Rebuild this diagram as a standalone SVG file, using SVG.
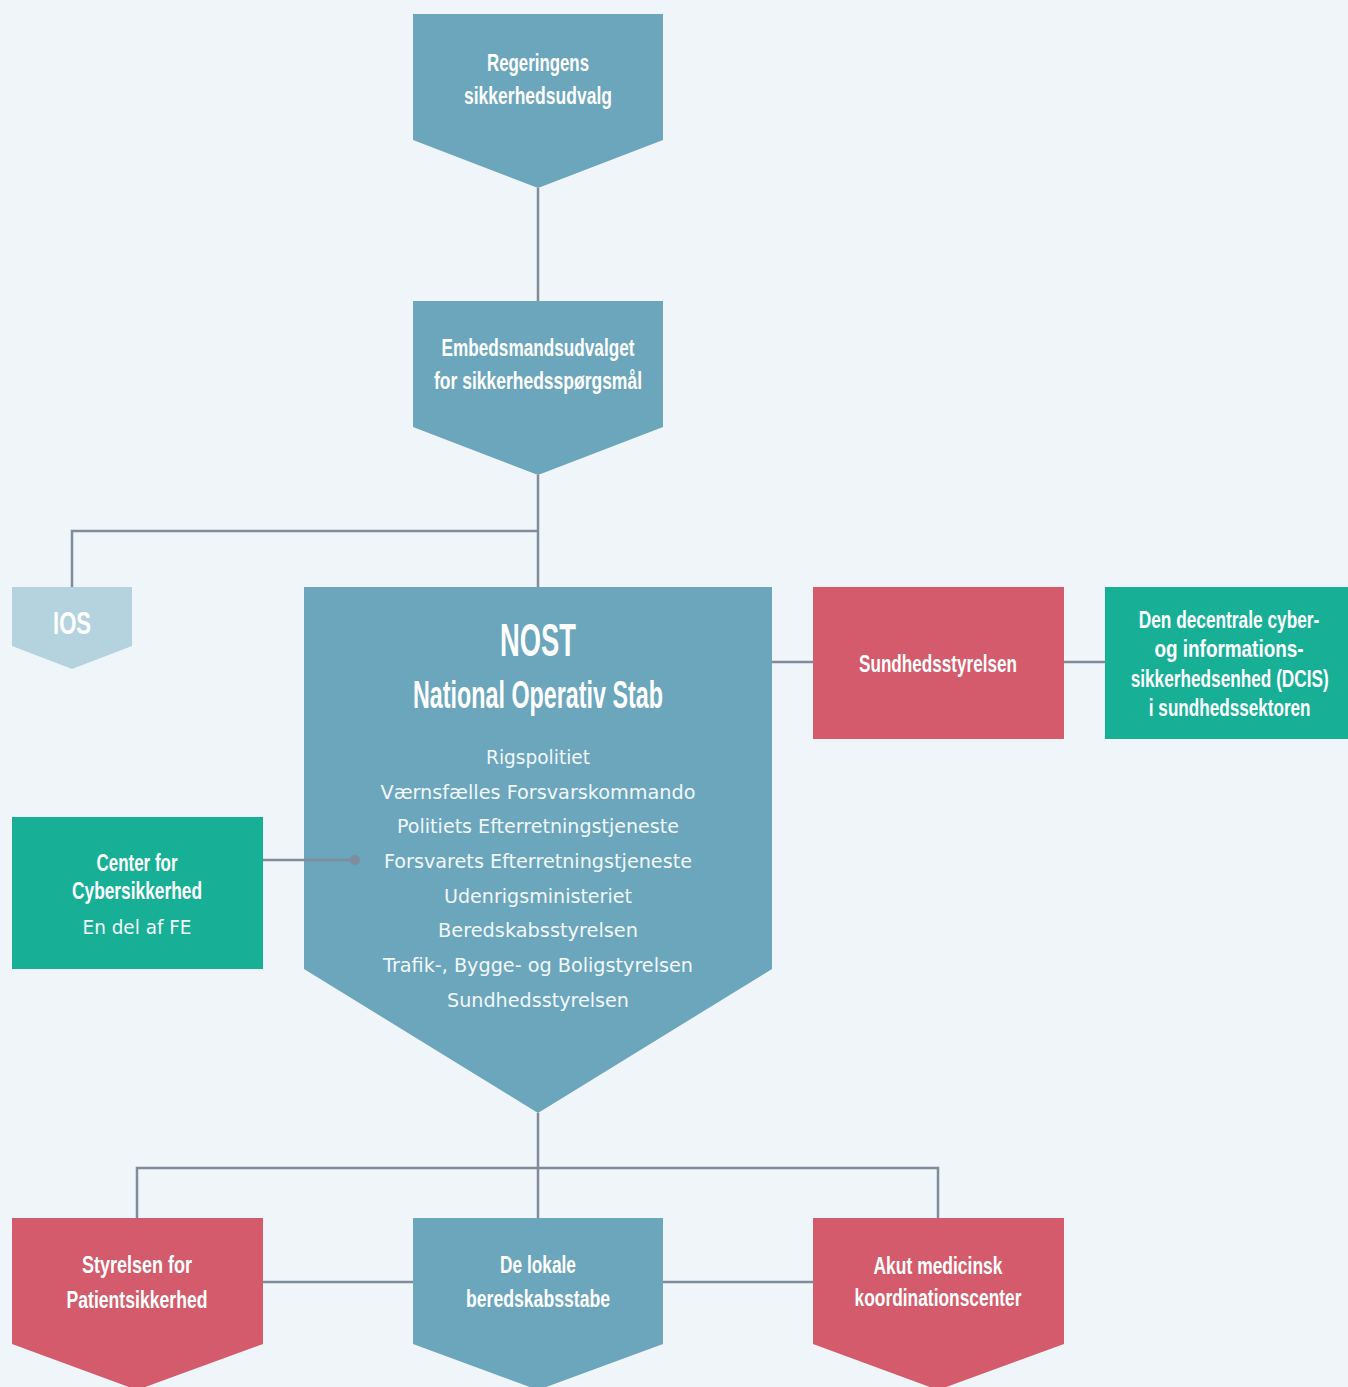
<svg xmlns="http://www.w3.org/2000/svg" width="1348" height="1387" viewBox="0 0 1348 1387">
<style>
.bg{fill:#eff5f8}
.blue{fill:#6ba6bd}
.light{fill:#b5d3df}
.red{fill:#d45b6b}
.green{fill:#17b097}
.ln{stroke:#7f8c9b;stroke-width:2.5;fill:none}
.t{font-family:"Liberation Sans",Arial,sans-serif;font-weight:bold;fill:#ffffff;text-anchor:middle}
.h{font-size:24px}
.r{font-family:"DejaVu Sans","Liberation Sans",sans-serif;font-size:19px;fill:#f2f7fa;text-anchor:middle}
</style>
<rect class="bg" x="0" y="0" width="1348" height="1387"/>
<g id="regeringens">
<polygon class="blue" points="413,14 663,14 663,140 538,188 413,140"/>
<text class="t h" x="538" y="71" textLength="102" lengthAdjust="spacingAndGlyphs">Regeringens</text>
<text class="t h" x="538" y="104" textLength="148" lengthAdjust="spacingAndGlyphs">sikkerhedsudvalg</text>
</g>
<g id="embedsmand">
<polygon class="blue" points="413,301 663,301 663,427 538,475 413,427"/>
<text class="t h" x="538" y="356" textLength="193" lengthAdjust="spacingAndGlyphs">Embedsmandsudvalget</text>
<text class="t h" x="538" y="389" textLength="208" lengthAdjust="spacingAndGlyphs">for sikkerhedsspørgsmål</text>
</g>
<g id="ios">
<polygon class="light" points="12,587 132,587 132,646 72,669 12,646"/>
<text class="t" x="72" y="634" font-size="32" textLength="38" lengthAdjust="spacingAndGlyphs">IOS</text>
</g>
<g id="nost">
<polygon class="blue" points="304,587 772,587 772,969 538,1113 304,969"/>
<text class="t" x="538" y="656" font-size="47" textLength="76" lengthAdjust="spacingAndGlyphs">NOST</text>
<text class="t" x="538" y="708" font-size="38" textLength="250" lengthAdjust="spacingAndGlyphs">National Operativ Stab</text>
<text class="r" x="538" y="764" textLength="104" lengthAdjust="spacingAndGlyphs">Rigspolitiet</text>
<text class="r" x="538" y="799" textLength="315" lengthAdjust="spacingAndGlyphs">Værnsfælles Forsvarskommando</text>
<text class="r" x="538" y="833" textLength="282" lengthAdjust="spacingAndGlyphs">Politiets Efterretningstjeneste</text>
<text class="r" x="538" y="868" textLength="308" lengthAdjust="spacingAndGlyphs">Forsvarets Efterretningstjeneste</text>
<text class="r" x="538" y="903" textLength="188" lengthAdjust="spacingAndGlyphs">Udenrigsministeriet</text>
<text class="r" x="538" y="937" textLength="200" lengthAdjust="spacingAndGlyphs">Beredskabsstyrelsen</text>
<text class="r" x="538" y="972" textLength="310" lengthAdjust="spacingAndGlyphs">Trafik-, Bygge- og Boligstyrelsen</text>
<text class="r" x="538" y="1007" textLength="182" lengthAdjust="spacingAndGlyphs">Sundhedsstyrelsen</text>
</g>
<g id="sundhedsstyrelsen">
<rect class="red" x="813" y="587" width="251" height="152"/>
<text class="t h" x="938" y="672" textLength="158" lengthAdjust="spacingAndGlyphs">Sundhedsstyrelsen</text>
</g>
<g id="dcis">
<rect class="green" x="1105" y="587" width="243" height="152"/>
<g transform="translate(1229,0) scale(0.7,1)">
<text class="t h" x="0" y="628" textLength="258" lengthAdjust="spacingAndGlyphs">Den decentrale cyber-</text>
<text class="t h" x="0" y="657" textLength="213" lengthAdjust="spacingAndGlyphs">og informations-</text>
<text class="t h" x="1" y="687" textLength="283" lengthAdjust="spacingAndGlyphs">sikkerhedsenhed (DCIS)</text>
<text class="t h" x="1" y="716" textLength="231" lengthAdjust="spacingAndGlyphs">i sundhedssektoren</text>
</g>
</g>
<g id="cfcs">
<rect class="green" x="12" y="817" width="251" height="152"/>
<text class="t h" x="137" y="871" textLength="81" lengthAdjust="spacingAndGlyphs">Center for</text>
<text class="t h" x="137" y="899" textLength="130" lengthAdjust="spacingAndGlyphs">Cybersikkerhed</text>
<text class="r" x="137" y="934" textLength="109" lengthAdjust="spacingAndGlyphs">En del af FE</text>
</g>
<g id="styrelsen-patient">
<polygon class="red" points="12,1218 263,1218 263,1344 137,1390 12,1344"/>
<text class="t h" x="137" y="1273" textLength="110" lengthAdjust="spacingAndGlyphs">Styrelsen for</text>
<text class="t h" x="137" y="1308" textLength="141" lengthAdjust="spacingAndGlyphs">Patientsikkerhed</text>
</g>
<g id="lokale">
<polygon class="blue" points="413,1218 663,1218 663,1344 538,1390 413,1344"/>
<text class="t h" x="538" y="1273" textLength="76" lengthAdjust="spacingAndGlyphs">De lokale</text>
<text class="t h" x="538" y="1307" textLength="144" lengthAdjust="spacingAndGlyphs">beredskabsstabe</text>
</g>
<g id="akut">
<polygon class="red" points="813,1218 1064,1218 1064,1344 938,1390 813,1344"/>
<text class="t h" x="938" y="1274" textLength="129" lengthAdjust="spacingAndGlyphs">Akut medicinsk</text>
<text class="t h" x="938" y="1306" textLength="167" lengthAdjust="spacingAndGlyphs">koordinationscenter</text>
</g>
<g id="connectors">
<path class="ln" d="M538 188V301"/>
<path class="ln" d="M538 475V587"/>
<path class="ln" d="M538 531H72V587"/>
<path class="ln" d="M772 662H813"/>
<path class="ln" d="M1064 662H1105"/>
<path class="ln" d="M263 860H355"/>
<circle cx="355" cy="860" r="5" fill="#7f8c9b"/>
<path class="ln" d="M538 1113V1218"/>
<path class="ln" d="M137 1218V1168H938V1218"/>
<path class="ln" d="M263 1282H413"/>
<path class="ln" d="M663 1282H813"/>
</g>
</svg>
